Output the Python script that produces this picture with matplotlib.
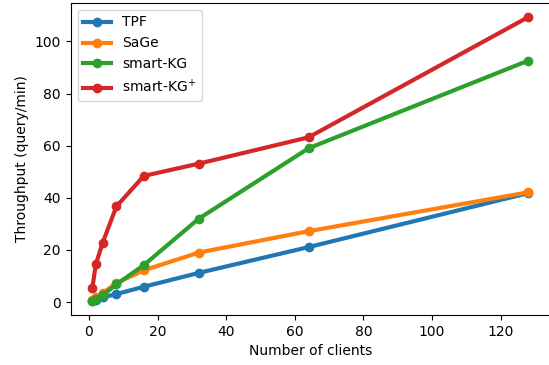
import matplotlib.pyplot as plt

clients = [1, 2, 4, 8, 16, 32, 64, 128]
tpf = [0.5, 0.9, 1.8, 3.1, 5.9, 11.2, 21.1, 41.8]
sage = [1.0, 1.8, 3.5, 7.3, 12.2, 19.0, 27.2, 42.1]
smartkg = [0.5, 1.2, 2.6, 6.8, 14.2, 32.0, 59.0, 92.6]
smartkg_plus = [5.6, 14.5, 22.8, 36.7, 48.4, 53.1, 63.2, 109.3]

fig = plt.figure(figsize=(5.49, 3.65), dpi=100)
ax = fig.add_axes([0.1286, 0.137, 0.8732, 0.855])
ax.plot(clients, tpf, marker='o', linewidth=3, label='TPF')
ax.plot(clients, sage, marker='o', linewidth=3, label='SaGe')
ax.plot(clients, smartkg, marker='o', linewidth=3, label='smart-KG')
ax.plot(clients, smartkg_plus, marker='o', linewidth=3, label='smart-KG$^{+}$')

ax.set_xlabel('Number of clients')
ax.set_ylabel('Throughput (query/min)')
ax.legend(loc='upper left')

plt.savefig('out.png')
